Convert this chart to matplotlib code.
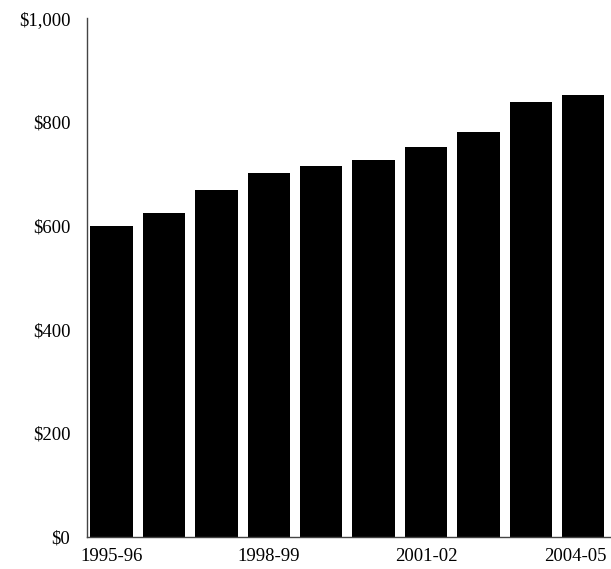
import matplotlib
matplotlib.use("Agg")
import matplotlib.pyplot as plt
import matplotlib.transforms as mtransforms
from matplotlib.ticker import FuncFormatter

# data
years = ['1995-96', '1996-97', '1997-98', '1998-99', '1999-00',
         '2000-01', '2001-02', '2002-03', '2003-04', '2004-05']
values = [599, 625, 669, 702, 716, 727, 752, 781, 838, 852]
shown_ticks = [0, 3, 6, 9]

plt.rcParams['font.family'] = ['Liberation Serif', 'DejaVu Serif']

fig = plt.figure(figsize=(6.11, 5.69), dpi=100)
ax = fig.add_axes([0.1424, 0.0565, 0.8576, 0.911])

x = list(range(len(years)))
ax.bar(x, values, width=0.81, color='black', zorder=2)

ax.set_xlim(-0.47, 9.53)
ax.set_ylim(0, 1000)
ax.set_yticks(range(0, 1001, 200))
ax.yaxis.set_major_formatter(FuncFormatter(lambda v, p: '${:,.0f}'.format(v)))
ax.set_xticks(shown_ticks)
ax.set_xticklabels([years[i] for i in shown_ticks])

ax.tick_params(axis='both', length=0, labelsize=13.5, colors='black')
ax.tick_params(axis='y', pad=12)
ax.tick_params(axis='x', pad=8)

# last label is pushed left so it stays inside the figure
last = ax.get_xticklabels()[-1]
last.set_transform(last.get_transform() +
                   mtransforms.ScaledTranslation(-6 / 72, 0, fig.dpi_scale_trans))

for s in ['top', 'right']:
    ax.spines[s].set_visible(False)
for s in ['left', 'bottom']:
    ax.spines[s].set_color('#444444')
    ax.spines[s].set_linewidth(1.0)

fig.savefig('out.png', dpi=100)
